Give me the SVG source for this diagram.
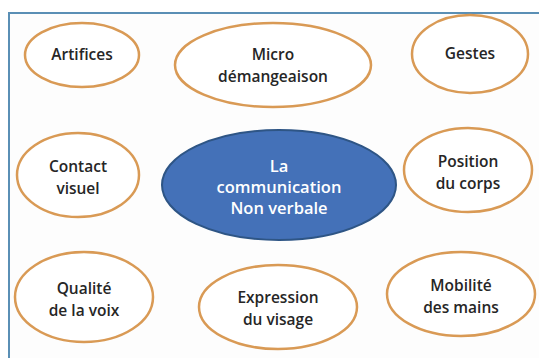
<svg xmlns="http://www.w3.org/2000/svg" width="539" height="358" viewBox="0 0 539 358">
<style>
.o{fill:#fff;stroke:#d99a55;stroke-width:2.5}
.c{fill:#4471b8;stroke:#2e5585;stroke-width:2}
text{font-family:"Open Sans","Noto Sans","Liberation Sans",sans-serif;font-size:15.5px;font-weight:600;text-anchor:middle;fill:#262626}
.w{fill:#fff;font-size:16.5px}
</style>
<rect x="0" y="0" width="539" height="358" fill="#fff"/>
<rect x="9" y="13" width="540" height="360" fill="#fdfdfd" stroke="#5a8fb5" stroke-width="2"/>
<g id="connectors"></g>
<g id="artifices"><ellipse class="o" cx="82" cy="55" rx="57" ry="32"/><text x="82" y="60">Artifices</text></g>
<g id="micro"><ellipse class="o" cx="273" cy="65" rx="98" ry="42"/><text x="273" y="60">Micro</text><text x="273" y="82">démangeaison</text></g>
<g id="gestes"><ellipse class="o" cx="470" cy="54" rx="58" ry="39"/><text x="470" y="59">Gestes</text></g>
<g id="contact"><ellipse class="o" cx="78" cy="175" rx="61" ry="42"/><text x="78" y="172">Contact</text><text x="78" y="194">visuel</text></g>
<g id="centre"><ellipse class="c" cx="279" cy="185" rx="117" ry="55"/><text class="w" x="279" y="172">La</text><text class="w" x="279" y="193">communication</text><text class="w" x="279" y="214">Non verbale</text></g>
<g id="position"><ellipse class="o" cx="468" cy="170" rx="64" ry="42"/><text x="468" y="167">Position</text><text x="468" y="189">du corps</text></g>
<g id="qualite"><ellipse class="o" cx="84" cy="297" rx="69" ry="45"/><text x="84" y="294">Qualité</text><text x="84" y="316">de la voix</text></g>
<g id="expression"><ellipse class="o" cx="278" cy="307" rx="79" ry="42"/><text x="278" y="303">Expression</text><text x="278" y="325">du visage</text></g>
<g id="mobilite"><ellipse class="o" cx="461" cy="294" rx="74" ry="42"/><text x="461" y="291">Mobilité</text><text x="461" y="313">des mains</text></g>
</svg>
